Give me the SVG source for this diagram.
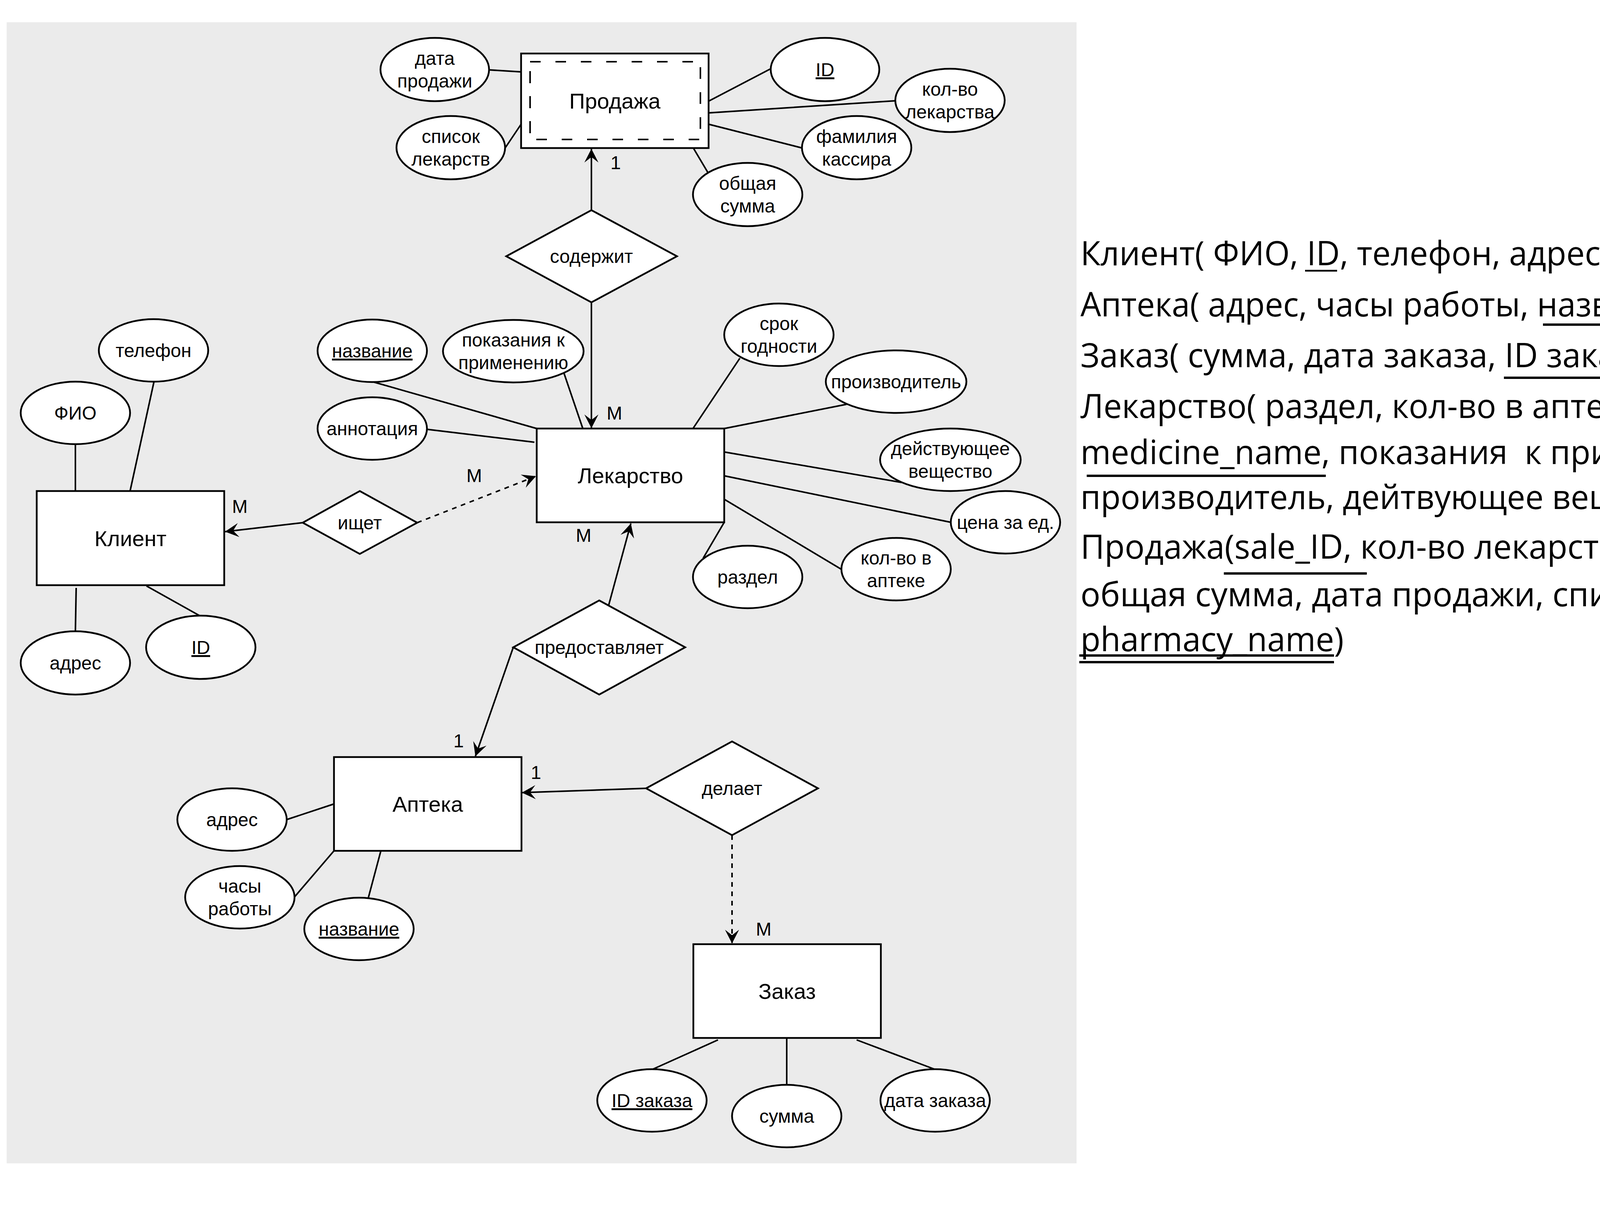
<svg xmlns="http://www.w3.org/2000/svg" width="5276" height="3100" viewBox="0 0 5276 3100">
<style>
.shape{fill:#ffffff;stroke:#000000;stroke-width:4.5}
.ln{fill:none;stroke:#000000;stroke-width:4}
.dash{stroke-dasharray:12 12}
.t{font-family:"Liberation Sans",Arial,Helvetica,sans-serif;font-size:48px;text-anchor:middle;fill:#000000}
.te{font-size:56px}
.u{text-decoration:underline}
.rt{font-family:"Open Sans","Noto Sans",sans-serif;font-size:86px;fill:#000000}
.ul{stroke:#000000;stroke-width:6}
.idash{fill:none;stroke:#000000;stroke-width:4}
</style>
<defs>
<marker id="arr" markerUnits="userSpaceOnUse" markerWidth="36" markerHeight="36" viewBox="0 0 35 36" refX="35" refY="18" orient="auto">
<path d="M0,0 L35,18 L0,36 L14,18 Z" fill="#000000"/>
</marker>
</defs>
<rect x="0" y="0" width="5276" height="3100" fill="#ffffff"/>
<rect x="17" y="57" width="2739" height="2921" fill="#ebebeb"/>

<g id="connectors">
<line class="ln" x1="1254" y1="179" x2="1334" y2="184"/>
<line class="ln" x1="1293" y1="379" x2="1334" y2="318"/>
<line class="ln" x1="1814" y1="259" x2="1973" y2="176"/>
<line class="ln" x1="1814" y1="289" x2="2292" y2="258"/>
<line class="ln" x1="1814" y1="318" x2="2054" y2="379"/>
<line class="ln" x1="1775" y1="379" x2="1813" y2="443"/>
<line class="ln" x1="953" y1="977" x2="1374" y2="1097"/>
<line class="ln" x1="1443" y1="953" x2="1492" y2="1097"/>
<line class="ln" x1="1093" y1="1099" x2="1368" y2="1132"/>
<line class="ln" x1="1894" y1="917" x2="1774" y2="1097"/>
<line class="ln" x1="2167" y1="1035" x2="1854" y2="1097"/>
<line class="ln" x1="1854" y1="1157" x2="2308" y2="1235"/>
<line class="ln" x1="1854" y1="1218" x2="2434" y2="1337"/>
<line class="ln" x1="1854" y1="1278" x2="2155" y2="1458"/>
<line class="ln" x1="1854" y1="1337" x2="1800" y2="1429"/>
<line class="ln" x1="394" y1="978" x2="333" y2="1257"/>
<line class="ln" x1="193" y1="1137" x2="193" y2="1257"/>
<line class="ln" x1="195" y1="1505" x2="193" y2="1616"/>
<line class="ln" x1="375" y1="1500" x2="511" y2="1576"/>
<line class="ln" x1="734" y1="2098" x2="855" y2="2058"/>
<line class="ln" x1="754" y1="2296" x2="855" y2="2178"/>
<line class="ln" x1="943" y1="2298" x2="975" y2="2178"/>
<line class="ln" x1="1669" y1="2738" x2="1838" y2="2662"/>
<line class="ln" x1="2014" y1="2657" x2="2014" y2="2778"/>
<line class="ln" x1="2193" y1="2662" x2="2395" y2="2738"/>
<line class="ln" x1="1514" y1="538" x2="1514" y2="381" marker-end="url(#arr)"/>
<line class="ln" x1="1514" y1="774" x2="1514" y2="1096" marker-end="url(#arr)"/>
<line class="ln" x1="775" y1="1338" x2="576" y2="1361" marker-end="url(#arr)"/>
<line class="ln dash" x1="1068" y1="1338" x2="1372" y2="1219" marker-end="url(#arr)"/>
<line class="ln" x1="1558" y1="1550" x2="1615" y2="1340" marker-end="url(#arr)"/>
<line class="ln" x1="1314" y1="1657" x2="1217" y2="1936" marker-end="url(#arr)"/>
<line class="ln" x1="1654" y1="2018" x2="1336" y2="2029" marker-end="url(#arr)"/>
<line class="ln dash" x1="1874" y1="2138" x2="1874" y2="2415" marker-end="url(#arr)"/>
<text class="t" x="1576" y="433">1</text>
<text class="t" x="1573" y="1074">M</text>
<text class="t" x="1494" y="1387">M</text>
<text class="t" x="1214" y="1234">M</text>
<text class="t" x="614" y="1313">M</text>
<text class="t" x="1174" y="1913">1</text>
<text class="t" x="1372" y="1994">1</text>
<text class="t" x="1955" y="2395">M</text>
</g>

<g id="prodazha">
<rect class="shape" x="1334" y="137" width="480" height="242"/>
<line class="idash" x1="1357" y1="158" x2="1793" y2="158" stroke-dasharray="27 38"/>
<line class="idash" x1="1373" y1="357" x2="1793" y2="357" stroke-dasharray="27 38"/>
<line class="idash" x1="1357" y1="182" x2="1357" y2="345" stroke-dasharray="31 33"/>
<line class="idash" x1="1793" y1="172" x2="1793" y2="335" stroke-dasharray="30 34"/>
<text class="t te" x="1574" y="278">Продажа</text>
</g>
<g id="attr-data-prodazhi"><ellipse class="shape" cx="1113" cy="178" rx="139" ry="81"/><text class="t" x="1113" y="166">дата</text><text class="t" x="1113" y="224">продажи</text></g>
<g id="attr-spisok"><ellipse class="shape" cx="1154" cy="378" rx="139" ry="81"/><text class="t" x="1154" y="366">список</text><text class="t" x="1154" y="424">лекарств</text></g>
<g id="attr-sale-id"><ellipse class="shape" cx="2112" cy="178" rx="139" ry="81"/><text class="t u" x="2112" y="195">ID</text></g>
<g id="attr-kolvo-lek"><ellipse class="shape" cx="2432" cy="257" rx="140" ry="81"/><text class="t" x="2432" y="245">кол-во</text><text class="t" x="2432" y="303">лекарства</text></g>
<g id="attr-familia"><ellipse class="shape" cx="2193" cy="378" rx="140" ry="81"/><text class="t" x="2193" y="366">фамилия</text><text class="t" x="2193" y="424">кассира</text></g>
<g id="attr-obshaya"><ellipse class="shape" cx="1914" cy="498" rx="140" ry="81"/><text class="t" x="1914" y="486">общая</text><text class="t" x="1914" y="544">сумма</text></g>

<g id="rel-soderzhit"><polygon class="shape" points="1514,538 1733,656 1514,774 1296,656"/><text class="t" x="1514" y="673">содержит</text></g>

<g id="lekarstvo">
<rect class="shape" x="1374" y="1097" width="480" height="240"/>
<text class="t te" x="1614" y="1237">Лекарство</text>
</g>
<g id="attr-nazvanie-lek"><ellipse class="shape" cx="953" cy="898" rx="140" ry="80"/><text class="t u" x="953" y="915">название</text></g>
<g id="attr-pokazania"><ellipse class="shape" cx="1314" cy="899" rx="180" ry="80"/><text class="t" x="1314" y="887">показания к</text><text class="t" x="1314" y="945">применению</text></g>
<g id="attr-annotacia"><ellipse class="shape" cx="953" cy="1097" rx="140" ry="80"/><text class="t" x="953" y="1114">аннотация</text></g>
<g id="attr-srok"><ellipse class="shape" cx="1994" cy="857" rx="140" ry="80"/><text class="t" x="1994" y="845">срок</text><text class="t" x="1994" y="903">годности</text></g>
<g id="attr-proizvoditel"><ellipse class="shape" cx="2294" cy="977" rx="180" ry="80"/><text class="t" x="2294" y="994">производитель</text></g>
<g id="attr-veshestvo"><ellipse class="shape" cx="2433" cy="1177" rx="180" ry="80"/><text class="t" x="2433" y="1165">действующее</text><text class="t" x="2433" y="1223">вещество</text></g>
<g id="attr-cena"><ellipse class="shape" cx="2574" cy="1337" rx="140" ry="80"/><text class="t" x="2574" y="1354">цена за ед.</text></g>
<g id="attr-kolvo-apteke"><ellipse class="shape" cx="2294" cy="1457" rx="140" ry="80"/><text class="t" x="2294" y="1445">кол-во в</text><text class="t" x="2294" y="1503">аптеке</text></g>
<g id="attr-razdel"><ellipse class="shape" cx="1914" cy="1477" rx="140" ry="80"/><text class="t" x="1914" y="1494">раздел</text></g>

<g id="klient">
<rect class="shape" x="94" y="1257" width="480" height="241"/>
<text class="t te" x="334" y="1398">Клиент</text>
</g>
<g id="attr-telefon"><ellipse class="shape" cx="393" cy="897" rx="140" ry="80"/><text class="t" x="393" y="914">телефон</text></g>
<g id="attr-fio"><ellipse class="shape" cx="193" cy="1057" rx="140" ry="80"/><text class="t" x="193" y="1074">ФИО</text></g>
<g id="attr-adres-klient"><ellipse class="shape" cx="193" cy="1697" rx="140" ry="81"/><text class="t" x="193" y="1714">адрес</text></g>
<g id="attr-id-klient"><ellipse class="shape" cx="514" cy="1657" rx="140" ry="81"/><text class="t u" x="514" y="1674">ID</text></g>

<g id="rel-ishet"><polygon class="shape" points="921,1257 1068,1338 921,1418 775,1338"/><text class="t" x="921" y="1355">ищет</text></g>

<g id="rel-predostavlyaet"><polygon class="shape" points="1534,1537 1754,1657 1534,1778 1314,1657"/><text class="t" x="1534" y="1674">предоставляет</text></g>

<g id="apteka">
<rect class="shape" x="855" y="1938" width="480" height="240"/>
<text class="t te" x="1095" y="2078">Аптека</text>
</g>
<g id="attr-adres-apteka"><ellipse class="shape" cx="594" cy="2098" rx="140" ry="80"/><text class="t" x="594" y="2115">адрес</text></g>
<g id="attr-chasy"><ellipse class="shape" cx="614" cy="2297" rx="140" ry="80"/><text class="t" x="614" y="2285">часы</text><text class="t" x="614" y="2343">работы</text></g>
<g id="attr-nazvanie-apteka"><ellipse class="shape" cx="919" cy="2378" rx="140" ry="80"/><text class="t u" x="919" y="2395">название</text></g>

<g id="rel-delaet"><polygon class="shape" points="1874,1898 2094,2018 1874,2138 1654,2018"/><text class="t" x="1874" y="2035">делает</text></g>

<g id="zakaz">
<rect class="shape" x="1775" y="2417" width="480" height="240"/>
<text class="t te" x="2015" y="2557">Заказ</text>
</g>
<g id="attr-id-zakaza"><ellipse class="shape" cx="1669" cy="2817" rx="140" ry="80"/><text class="t u" x="1669" y="2834">ID заказа</text></g>
<g id="attr-summa"><ellipse class="shape" cx="2014" cy="2857" rx="140" ry="80"/><text class="t" x="2014" y="2874">сумма</text></g>
<g id="attr-data-zakaza"><ellipse class="shape" cx="2394" cy="2817" rx="140" ry="80"/><text class="t" x="2394" y="2834">дата заказа</text></g>

<g id="schema-text">
<text class="rt" x="2766" y="679" textLength="1356" lengthAdjust="spacingAndGlyphs">Клиент( ФИО, ID, телефон, адрес)</text>
<text class="rt" x="2766" y="810" textLength="1580" lengthAdjust="spacingAndGlyphs">Аптека( адрес, часы работы, название)</text>
<text class="rt" x="2766" y="940" textLength="1484" lengthAdjust="spacingAndGlyphs">Заказ( сумма, дата заказа, ID заказа)</text>
<text class="rt" x="2766" y="1070" textLength="1938" lengthAdjust="spacingAndGlyphs">Лекарство( раздел, кол-во в аптеке, аннотация,</text>
<text class="rt" x="2766" y="1188" textLength="2388" lengthAdjust="spacingAndGlyphs" xml:space="preserve">medicine_name, показания  к применению, срок годности,</text>
<text class="rt" x="2766" y="1303" textLength="2344" lengthAdjust="spacingAndGlyphs">производитель, дейтвующее вещество, цена за единицу)</text>
<text class="rt" x="2766" y="1430" textLength="2207" lengthAdjust="spacingAndGlyphs">Продажа(sale_ID, кол-во лекарства, фамилия кассира,</text>
<text class="rt" x="2766" y="1552" textLength="2282" lengthAdjust="spacingAndGlyphs">общая сумма, дата продажи, список лекарств, client_ID,</text>
<text class="rt" x="2766" y="1667" textLength="674" lengthAdjust="spacingAndGlyphs">pharmacy_name)</text>
<line class="ul" x1="3341" y1="693" x2="3423" y2="693" style="stroke-width:4.5"/>
<line class="ul" x1="3950" y1="831" x2="4321" y2="831"/>
<line class="ul" x1="3850" y1="967" x2="4219" y2="967"/>
<line class="ul" x1="2782" y1="1218" x2="3394" y2="1218"/>
<line class="ul" x1="3133" y1="1468" x2="3499" y2="1468"/>
<line class="ul" x1="4683" y1="1564" x2="5030" y2="1564"/>
<line class="ul" x1="4683" y1="1584" x2="5030" y2="1584"/>
<line class="ul" x1="2763" y1="1678" x2="3415" y2="1678"/>
<line class="ul" x1="2763" y1="1695" x2="3415" y2="1695"/>
</g>
</svg>
